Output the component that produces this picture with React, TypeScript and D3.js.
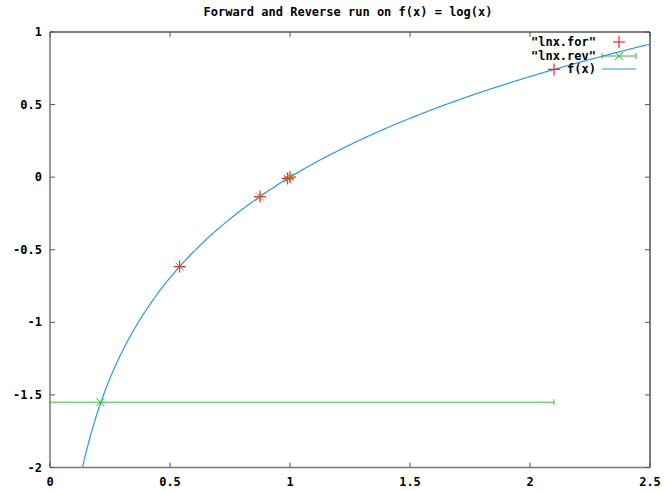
import React from 'react';
import * as d3 from 'd3';

// "lnx.for" points
const forX = [0.54, 0.875, 0.99, 1.0, 2.1];
const forY = [-0.616, -0.134, -0.01, 0.0, 0.742];

// "lnx.rev" points with x error ranges
const revX = [0.21, 0.54, 0.875, 0.99, 1.0];
const revY = [-1.55, -0.616, -0.134, -0.01, 0.0];
const revXLow = [-0.2, 0.54, 0.875, 0.99, 1.0];
const revXHigh = [2.1, 0.54, 0.875, 0.99, 1.0];

const xTicks = [0, 0.5, 1, 1.5, 2, 2.5];
const yTicks = [-2, -1.5, -1, -0.5, 0, 0.5, 1];
const legendLabels = ['"lnx.for"', '"lnx.rev"', 'f(x)'];

const W = 665;
const H = 491;
const margin = { top: 32, right: 15, bottom: 23.5, left: 50 };
const RED = '#ff2020';
const GREEN = '#30c030';
const BLUE = '#2f94f0';
const FONT = '"DejaVu Sans Mono", monospace';

export default function App() {
  const x = d3.scaleLinear().domain([0, 2.5]).range([margin.left, W - margin.right]);
  const y = d3.scaleLinear().domain([-2, 1]).range([H - margin.bottom, margin.top]);

  const curveXs = d3.range(0.12, 2.5001, 0.005);
  const line = d3.line<number>()
    .x(d => x(d))
    .y(d => y(Math.log(d)));

  const x0 = x(0), x1 = x(2.5), y0 = y(-2), y1 = y(1);
  const tl = 5;

  const plus = (cx: number, cy: number, k: string, s = 6) => (
    <g key={k} stroke={RED} strokeWidth={1.2}>
      <line x1={cx - s} x2={cx + s} y1={cy} y2={cy} />
      <line x1={cx} x2={cx} y1={cy - s} y2={cy + s} />
    </g>
  );
  const cross = (cx: number, cy: number, k: string, s = 4) => (
    <g key={k} stroke={GREEN} strokeWidth={1}>
      <line x1={cx - s} x2={cx + s} y1={cy - s} y2={cy + s} />
      <line x1={cx - s} x2={cx + s} y1={cy + s} y2={cy - s} />
    </g>
  );

  const legX = 596;
  const legY = [42, 56, 69];
  const sampleL = 602, sampleR = 636, sampleC = 619;

  return (
    <svg width={W} height={H} style={{ position: 'absolute', left: 0, top: 0, background: '#fff' }}>
      <defs>
        <clipPath id="plot">
          <rect x={x0} y={y1} width={x1 - x0} height={y0 - y1} />
        </clipPath>
      </defs>
      <text x={348} y={16} textAnchor="middle" fontFamily={FONT} fontWeight="bold" fontSize={12}>
        Forward and Reverse run on f(x) = log(x)
      </text>

      {/* border */}
      <line x1={x0} x2={x1} y1={y1} y2={y1} stroke="#000" />
      <line x1={x1} x2={x1} y1={y1} y2={y0} stroke="#000" />
      <line x1={x0} x2={x0} y1={y1} y2={y0} stroke="#777" strokeWidth={1.5} />
      <line x1={x0} x2={x1} y1={y0} y2={y0} stroke="#777" strokeWidth={1.5} />

      {yTicks.map(t => (
        <g key={'y' + t}>
          <line x1={x0} x2={x0 + tl} y1={y(t)} y2={y(t)} stroke="#555" />
          <line x1={x1} x2={x1 - tl} y1={y(t)} y2={y(t)} stroke="#555" />
          <text x={42} y={y(t) + 4} textAnchor="end" fontFamily={FONT} fontWeight="bold" fontSize={12}>
            {t}
          </text>
        </g>
      ))}
      {xTicks.map(t => (
        <g key={'x' + t}>
          <line x1={x(t)} x2={x(t)} y1={y0} y2={y0 - tl} stroke="#555" />
          <line x1={x(t)} x2={x(t)} y1={y1} y2={y1 + tl} stroke="#555" />
          <text x={x(t)} y={486} textAnchor="middle" fontFamily={FONT} fontWeight="bold" fontSize={12}>
            {t}
          </text>
        </g>
      ))}

      <g clipPath="url(#plot)">
        <path d={line(curveXs) || ''} fill="none" stroke={BLUE} strokeWidth={1.2} />
        {revX.map((v, i) => (
          <g key={'e' + i} stroke={GREEN} strokeWidth={1}>
            <line x1={x(revXLow[i])} x2={x(revXHigh[i])} y1={y(revY[i])} y2={y(revY[i])} />
            <line x1={x(revXHigh[i])} x2={x(revXHigh[i])} y1={y(revY[i]) - 3} y2={y(revY[i]) + 3} />
          </g>
        ))}
        {forX.map((v, i) => plus(x(v), y(forY[i]), 'p' + i))}
        {revX.map((v, i) => cross(x(v), y(revY[i]), 'c' + i))}
      </g>

      {/* legend */}
      {legendLabels.map((l, i) => (
        <text key={l} x={legX} y={legY[i] + 4} textAnchor="end" fontFamily={FONT} fontWeight="bold" fontSize={12}>
          {l}
        </text>
      ))}
      {plus(sampleC, legY[0], 'lp')}
      <g stroke={GREEN} strokeWidth={1}>
        <line x1={sampleL} x2={sampleR} y1={legY[1]} y2={legY[1]} />
        <line x1={sampleL} x2={sampleL} y1={legY[1] - 3} y2={legY[1] + 3} />
        <line x1={sampleR} x2={sampleR} y1={legY[1] - 3} y2={legY[1] + 3} />
      </g>
      {cross(sampleC, legY[1], 'lc')}
      <line x1={sampleL} x2={sampleR} y1={legY[2]} y2={legY[2]} stroke={BLUE} strokeWidth={1.2} />
    </svg>
  );
}
